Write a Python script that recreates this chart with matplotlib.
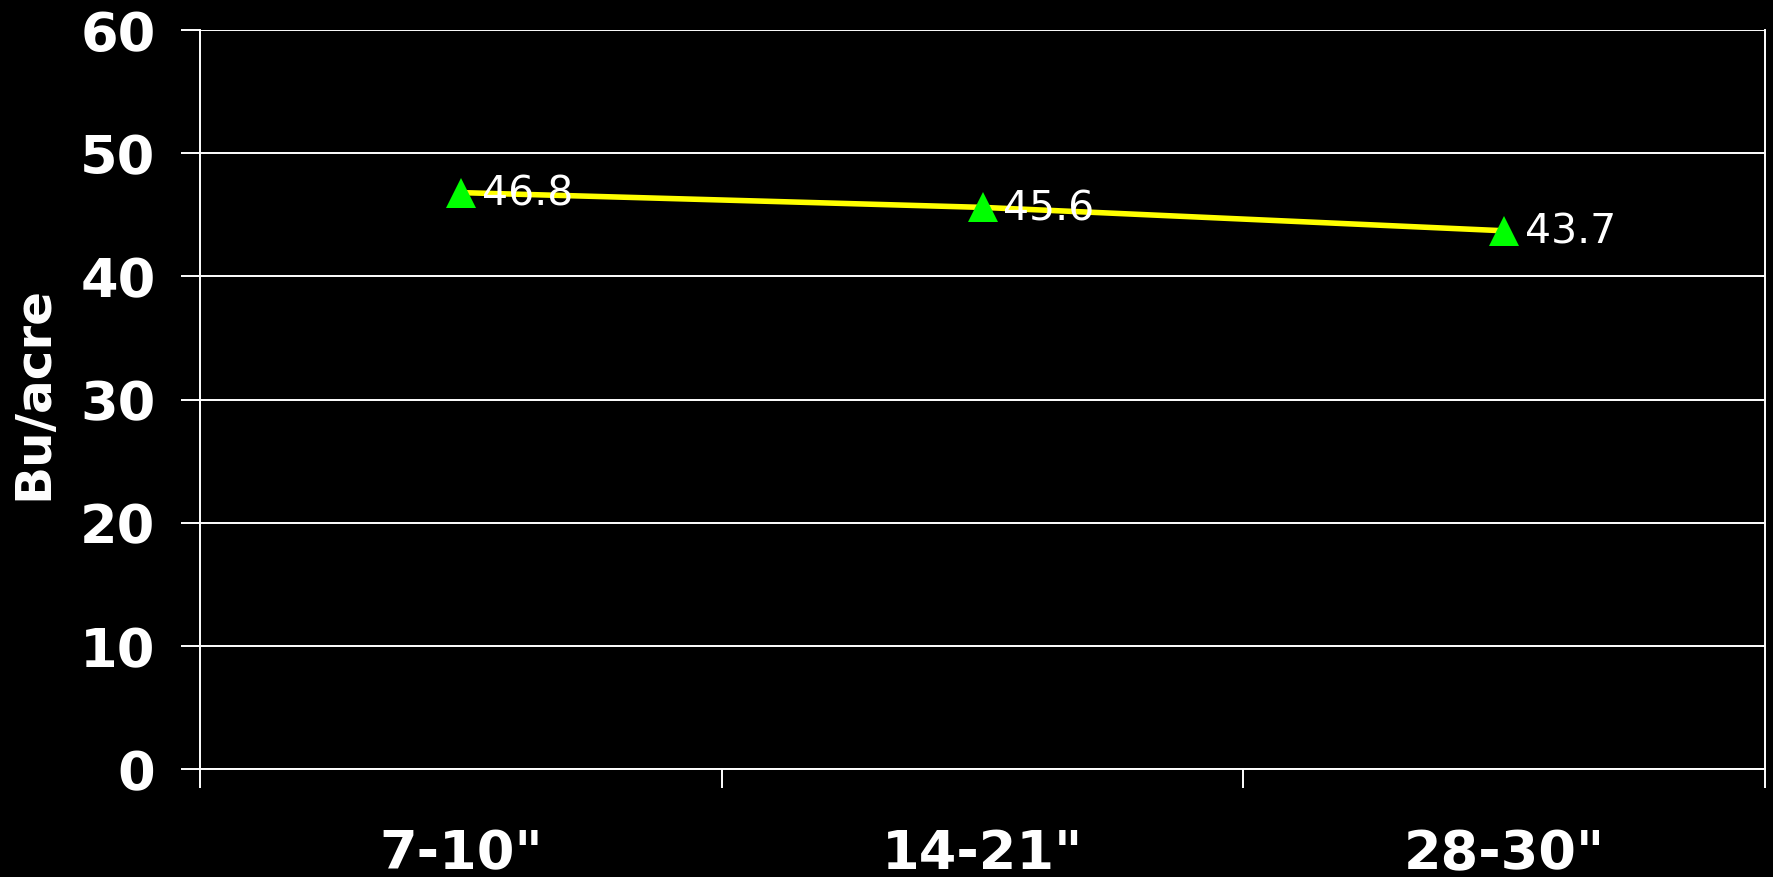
import matplotlib.pyplot as plt
from matplotlib.ticker import FixedLocator, NullFormatter

spacings = ['7-10"', '14-21"', '28-30"']
yields = [46.8, 45.6, 43.7]
y_ticks = [0, 10, 20, 30, 40, 50, 60]


def draw(categories, values):
    fig = plt.figure(figsize=(17.73, 8.775), dpi=100, facecolor="black")
    ax = fig.add_axes([0.1128, 0.1231, 0.8827, 0.8421], facecolor="black")

    xs = list(range(len(categories)))
    ax.plot(xs, values, color="#ffff00", linewidth=4, zorder=3)
    ax.plot(xs, values, linestyle="none", marker="^", markersize=21,
            color="#00ff00", markeredgewidth=0, zorder=4)

    for x, v in zip(xs, values):
        ax.annotate(f"{v:.1f}", (x, v), xytext=(15, -1), textcoords="offset points",
                    ha="left", va="center", color="white", fontsize=29.5, zorder=5)

    ax.set_xlim(-0.5, len(categories) - 0.5)
    ax.set_ylim(0, 60)

    # category labels sit in the middle, tick marks on the boundaries
    ax.set_xticks(xs)
    ax.set_xticklabels(categories)
    ax.xaxis.set_minor_locator(FixedLocator([i - 0.5 for i in range(len(categories) + 1)]))
    ax.xaxis.set_minor_formatter(NullFormatter())
    ax.tick_params(axis="x", which="major", length=0, pad=42,
                   labelsize=39, labelcolor="white")
    ax.tick_params(axis="x", which="minor", length=14, width=1.4,
                   color="white", direction="out")
    for lab in ax.get_xticklabels():
        lab.set_fontweight("bold")

    ax.set_yticks(y_ticks)
    ax.tick_params(axis="y", length=14, width=1.4, color="white", pad=18,
                   labelsize=39, labelcolor="white")
    for lab in ax.get_yticklabels():
        lab.set_fontweight("bold")

    ax.grid(axis="y", color="white", linewidth=1.4)
    ax.set_axisbelow(True)
    for side in ["left", "bottom", "right"]:
        ax.spines[side].set_color("white")
        ax.spines[side].set_linewidth(1.4)
    ax.spines["top"].set_visible(False)

    ax.set_ylabel("Bu/acre", color="white", fontsize=36, fontweight="bold")
    ax.yaxis.set_label_coords(-0.091, 0.51)

    fig.savefig("out.png", dpi=100, facecolor="black")


def main():
    draw(spacings, yields)


if __name__ == "__main__":
    main()
